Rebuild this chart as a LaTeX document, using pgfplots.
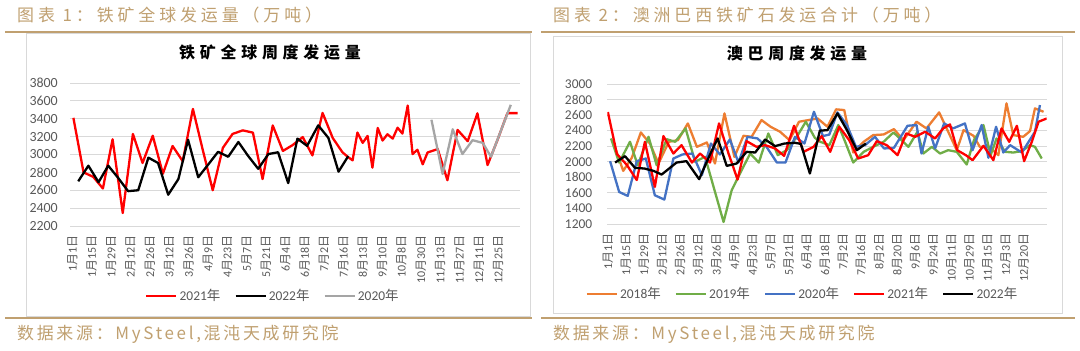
\documentclass[border=0pt]{standalone}
\usepackage{fontspec}
\setmainfont{Carlito}
\newfontfamily\cjk{Noto Sans CJK SC}
\newfontfamily\cjkls[LetterSpace=23]{Noto Sans CJK SC}
\newfontfamily\cjksrc[LetterSpace=16]{Noto Sans CJK SC}
\newfontfamily\cjkt[LetterSpace=30]{Noto Sans CJK SC}
\usepackage{pgfplots}
\pgfplotsset{compat=1.18}
\definecolor{gold}{RGB}{192,160,112}
\definecolor{gridc}{RGB}{217,217,217}
\definecolor{tickc}{RGB}{89,89,89}
\definecolor{boxc}{RGB}{217,217,217}
\definecolor{c18}{RGB}{237,125,49}
\definecolor{c19}{RGB}{112,173,71}
\definecolor{c20}{RGB}{68,114,196}
\definecolor{c20g}{RGB}{165,165,165}
\newcommand\M{{\cjk 月}}
\newcommand\D{{\cjk 日}}
\newcommand\N{{\cjk 年}}

\pgfplotstableread{
x y
0.2 3410
2.3 2800
4.3 2750
6.3 2620
8.3 3170
10.4 2345
12.5 3230
14.5 2905
16.6 3210
18.7 2785
20.7 3095
22.8 2925
24.9 3510
26.9 3060
29.0 2600
31.1 3075
33.1 3230
35.2 3270
37.3 3245
39.3 2725
41.4 3325
43.5 3040
45.5 3105
47.6 3195
49.6 2990
51.7 3465
53.8 3185
55.8 3025
57.0 2970
57.9 2935
58.9 3245
60.0 3130
61.0 3208
62.0 2853
63.1 3297
64.1 3156
65.1 3226
66.2 3178
67.2 3300
68.2 3234
69.3 3548
70.3 3005
71.3 3053
72.4 2890
73.4 3023
74.4 3041
75.5 3060
77.5 2712
79.6 3275
81.7 3149
83.7 3460
85.8 2882
87.9 3170
89.9 3463
92.0 3463
}\Lred

\pgfplotstableread{
x y
1.2 2700
3.3 2875
5.4 2690
7.4 2875
9.5 2735
11.5 2590
13.6 2600
15.7 2965
17.7 2905
19.8 2550
21.9 2725
23.9 3165
26.0 2745
28.1 2890
30.1 3030
32.2 2975
34.3 3140
36.3 2985
38.4 2840
40.5 3005
42.5 3025
44.6 2680
46.5 3178
48.5 3097
50.8 3326
52.9 3186
55.0 2808
57.0 2982
}\Lblack

\pgfplotstableread{
x y
74.2 3389
76.5 2782
78.6 3282
80.6 3005
82.7 3160
84.8 3130
86.5 2975
90.6 3556
}\Lgray

\pgfplotstableread{
x y
1.6 2250
3.8 1883
5.7 2051
7.7 2377
9.7 2235
11.6 1978
13.9 2257
15.9 2278
18.1 2493
20.1 2192
22.3 2248
24.1 1978
26.2 2622
28.4 2063
30.4 2334
32.2 2321
34.4 2536
36.4 2450
38.5 2386
40.6 2278
42.7 2515
44.8 2536
46.8 2557
49.0 2450
50.9 2674
52.7 2665
54.7 2119
57.0 2257
59.1 2343
61.4 2351
63.7 2420
65.8 2278
68.7 2515
70.9 2429
73.7 2635
75.7 2386
77.6 2149
79.1 2407
81.3 2334
82.7 2192
84.8 2192
86.8 2085
88.6 2751
90.1 2343
92.3 2321
93.8 2394
94.9 2686
96.8 2643
}\Rorange

\pgfplotstableread{
x y
1.1 2300
2.9 1990
5.3 2257
7.0 1956
9.4 2321
11.2 1956
13.4 2291
15.3 2257
17.6 2429
19.7 2000
21.9 2064
26.0 1226
27.8 1634
30.0 1892
31.9 2106
33.8 1990
35.9 2364
38.0 2085
40.0 2149
42.2 2321
44.2 2515
46.2 2308
47.4 2257
49.4 2214
51.4 2472
52.9 2257
54.7 1990
57.0 2128
59.1 2192
61.4 2257
63.6 2377
66.9 2192
68.9 2386
70.2 2106
72.1 2192
73.9 2106
75.7 2149
77.6 2128
79.8 1965
81.4 2278
83.5 2472
85.1 2085
86.4 2300
88.3 2128
90.1 2119
92.0 2137
93.8 2214
94.9 2192
96.4 2042
}\Rgreen

\pgfplotstableread{
x y
0.9 2008
2.9 1612
4.8 1561
6.8 2008
8.8 2042
10.8 1569
12.9 1514
14.9 2042
16.9 2094
19.1 2106
21.2 1827
23.2 2235
25.2 2094
27.4 2287
29.3 1990
31.3 2321
33.5 2300
35.5 2192
37.8 1990
39.7 1990
41.8 2321
43.9 2235
46.0 2643
48.0 2330
49.4 2350
51.2 2635
53.3 2472
55.3 2192
57.3 2214
59.5 2321
61.5 2171
63.7 2179
66.7 2463
68.7 2472
69.8 2106
71.3 2450
72.8 2171
74.8 2493
76.8 2429
79.4 2493
81.1 2149
83.1 2472
84.6 2051
86.3 2450
87.9 2119
89.4 2214
92.0 2119
94.9 2386
96.0 2729
}\Rblue

\pgfplotstableread{
x y
0.4 2640
2.4 2100
4.6 1960
6.8 1765
8.6 2257
10.8 1677
12.7 2330
14.9 2106
16.7 2214
19.0 1990
20.8 2106
23.0 1990
25.0 2493
27.1 2106
29.1 1771
31.1 2265
33.3 2192
35.2 2214
37.4 2171
39.4 2076
41.6 2463
43.7 2128
45.9 2192
47.7 2330
49.6 2128
51.6 2450
53.8 2278
55.8 2042
58.0 2085
59.9 2265
62.1 2214
64.5 2085
66.4 2364
68.4 2321
70.6 2386
72.8 2300
74.6 2429
76.1 2480
77.7 2149
79.6 2085
81.1 2021
83.5 2205
85.7 2021
87.5 2429
89.2 2257
90.9 2463
92.5 2008
94.2 2257
95.7 2515
97.5 2557
}\Rred

\pgfplotstableread{
x y
2.0 1990
4.2 2072
6.4 1922
8.5 1913
10.5 1883
12.3 1836
15.6 1990
17.8 2008
20.6 1776
23.0 2094
24.7 2300
26.7 1947
28.9 1978
31.1 2128
33.0 2119
35.2 2287
37.4 2201
39.5 2235
41.8 2244
43.1 2230
45.1 1849
47.3 2400
49.0 2407
51.2 2622
53.3 2407
55.5 2149
57.5 2235
}\Rblack

\pgfplotsset{
  excel/.style={
    scale only axis,
    axis line style={draw=none},
    major tick length=0pt,
    ymajorgrids,
    grid style={gridc, line width=0.9bp},
    tick label style={text=tickc},
    yticklabel style={anchor=east, inner sep=0pt, xshift=-12bp, font=\fontsize{14}{14}\selectfont},
    xticklabel style={yshift=-9bp, rotate=90, anchor=east, inner sep=0pt, font=\fontsize{12}{12}\selectfont},
    /pgf/number format/assume math mode=true,
    /pgf/number format/1000 sep={},
    legend style={draw=none, fill=none, anchor=center, legend columns=-1,
      font=\fontsize{13.5}{14}\selectfont, text=tickc,
      /tikz/every even column/.append style={column sep=12bp},
      nodes={inner sep=2bp}},
    legend image code/.code={\draw[#1, line width=2.4bp] (0bp,0bp) -- (30bp,0bp);},
    every axis plot/.append style={line width=2.3bp, mark=none, line join=round},
  }
}

\begin{document}
\begin{tikzpicture}
\path[use as bounding box, fill=white] (0bp,0bp) rectangle (1080bp,351bp);
\draw[boxc, line width=0.75bp] (26bp,35bp) rectangle (530bp,318bp);
\draw[boxc, line width=0.75bp] (553bp,38bp) rectangle (1062bp,315bp);
\draw[gold, line width=1.5bp] (5bp,319bp) -- (532bp,319bp);
\draw[gold, line width=1.5bp] (541bp,319bp) -- (1075bp,319bp);
\draw[gold, line width=1.5bp] (5bp,33bp) -- (532bp,33bp);
\draw[gold, line width=1.5bp] (541bp,33bp) -- (1075bp,33bp);
\node[anchor=west, text=gold, font=\fontsize{17}{17}\cjkls, inner sep=0pt] at (17bp,336bp) {图表 1：铁矿全球发运量（万吨）};
\node[anchor=west, text=gold, font=\fontsize{17}{17}\cjkls, inner sep=0pt] at (553bp,336bp) {图表 2：澳洲巴西铁矿石发运合计（万吨）};
\node[anchor=west, text=gold, font=\fontsize{17}{17}\cjksrc, inner sep=0pt] at (17bp,17bp) {数据来源：MySteel,混沌天成研究院};
\node[anchor=west, text=gold, font=\fontsize{17}{17}\cjksrc, inner sep=0pt] at (553bp,17bp) {数据来源：MySteel,混沌天成研究院};

\begin{axis}[excel, at={(70bp,125bp)}, anchor=south west, width=450bp, height=143bp,
  xmin=-0.5, xmax=92.5, ymin=2200, ymax=3800,
  ytick={2200,2400,2600,2800,3000,3200,3400,3600,3800},
  xtick={0,4,8,12,16,20,24,28,32,36,40,44,48,52,56,60,64,68,72,76,80,84,88},
  xticklabels={1\M1\D,1\M15\D,1\M29\D,2\M12\D,2\M26\D,3\M12\D,3\M26\D,4\M9\D,4\M23\D,5\M7\D,5\M21\D,6\M4\D,6\M18\D,7\M2\D,7\M16\D,8\M13\D,9\M10\D,10\M8\D,10\M30\D,11\M13\D,11\M27\D,12\M11\D,12\M25\D},
  legend style={at={(0.451,-0.49)}}]
\addplot[red] table[x=x,y=y] {\Lred};
\addlegendentry{2021\N}
\addplot[black] table[x=x,y=y] {\Lblack};
\addlegendentry{2022\N}
\addplot[c20g] table[x=x,y=y] {\Lgray};
\addlegendentry{2020\N}
\end{axis}

\begin{axis}[excel, at={(607.4bp,127bp)}, anchor=south west, width=439.3bp, height=140bp,
  xmin=0.3, xmax=97.5, ymin=1200, ymax=3000,
  ytick={1200,1400,1600,1800,2000,2200,2400,2600,2800,3000},
  yticklabel style={xshift=-3bp, font=\fontsize{13.5}{14}\selectfont},
  xtick={0.4,4.4,8.4,12.4,16.4,20.4,24.4,28.4,32.4,36.4,40.4,44.4,48.4,52.4,56.4,60.4,64.4,68.4,72.4,76.4,80.4,84.4,88.4,92.4},
  xticklabels={1\M1\D,1\M15\D,1\M29\D,2\M12\D,2\M26\D,3\M12\D,3\M26\D,4\M9\D,4\M23\D,5\M7\D,5\M21\D,6\M4\D,6\M18\D,7\M2\D,7\M16\D,8\M2\D,8\M20\D,9\M6\D,9\M24\D,10\M11\D,10\M29\D,11\M15\D,12\M3\D,12\M20\D},
  legend style={at={(0.444,-0.5)}}]
\addplot[c18] table[x=x,y=y] {\Rorange};
\addlegendentry{2018\N}
\addplot[c19] table[x=x,y=y] {\Rgreen};
\addlegendentry{2019\N}
\addplot[c20] table[x=x,y=y] {\Rblue};
\addlegendentry{2020\N}
\addplot[red] table[x=x,y=y] {\Rred};
\addlegendentry{2021\N}
\addplot[black] table[x=x,y=y] {\Rblack};
\addlegendentry{2022\N}
\end{axis}

\node[font=\fontsize{16}{16}\cjkt\bfseries, inner sep=0pt] at (270bp,299bp) {铁矿全球周度发运量};
\node[font=\fontsize{16}{16}\cjkt\bfseries, inner sep=0pt] at (797bp,298bp) {澳巴周度发运量};
\end{tikzpicture}
\end{document}
